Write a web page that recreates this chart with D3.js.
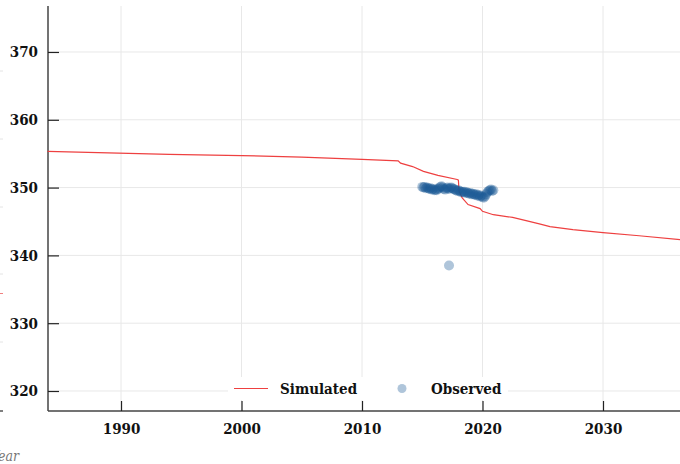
<!DOCTYPE html>
<html>
<head>
<meta charset="utf-8">
<script src="https://cdn.jsdelivr.net/npm/d3@7"></script>
<style>
  body { margin: 0; background: #fff; }
  svg { display: block; }
  .lbl { font-family: "DejaVu Serif Condensed", "DejaVu Serif", serif; font-weight: bold; font-stretch: condensed; font-size: 15px; fill: #111; }
</style>
</head>
<body>
<div id="chart"></div>
<script>
var WIDTH = 680, HEIGHT = 464;

// simulated series (red line)
var simYears  = [1983.9, 1994.0, 2000.0, 2005.0, 2010.0, 2013.0, 2013.2, 2014.2, 2015.1, 2016.3, 2017.9, 2018.0, 2018.05, 2018.3, 2018.8, 2019.8, 2020.0, 2020.9, 2022.5, 2023.7, 2024.8, 2025.6, 2027.5, 2030.0, 2033.0, 2036.4];
var simValues = [355.35, 354.9, 354.72, 354.5, 354.15, 353.95, 353.6, 353.1, 352.4, 351.8, 351.2, 351.1, 349.5, 348.5, 347.5, 346.9, 346.5, 346.0, 345.6, 345.1, 344.6, 344.25, 343.8, 343.36, 342.9, 342.33];

// observed points (blue dots)
var obsYears = [2015.0, 2015.1, 2015.2, 2015.3, 2015.4, 2015.5, 2015.6, 2015.7, 2015.8, 2015.9,
                2016.0, 2016.1, 2016.2, 2016.3, 2016.4, 2016.5, 2016.6, 2016.7, 2016.8, 2016.9,
                2017.0, 2017.1, 2017.2, 2017.3, 2017.4, 2017.5, 2017.6, 2017.7, 2017.8, 2017.9,
                2018.0, 2018.1, 2018.2, 2018.3, 2018.4, 2018.5, 2018.6, 2018.7, 2018.8, 2018.9,
                2019.0, 2019.1, 2019.2, 2019.3, 2019.4, 2019.5, 2019.6, 2019.7, 2019.8, 2019.9,
                2020.0, 2020.1, 2020.2, 2020.3, 2020.4, 2020.5, 2020.6, 2020.7, 2020.8, 2020.9,
                2017.22];
var obsValues = [350.1, 350.0, 350.1, 349.9, 350.0, 349.9, 349.8, 349.9, 349.7, 349.8,
                 349.6, 349.7, 349.6, 349.8, 349.9, 350.1, 350.2, 350.0, 349.8, 349.7,
                 349.9, 350.0, 349.8, 349.9, 350.0, 349.9, 349.8, 349.7, 349.6, 349.5,
                 349.6, 349.5, 349.3, 349.4, 349.3, 349.4, 349.2, 349.3, 349.2, 349.1,
                 349.2, 349.0, 349.1, 349.0, 348.9, 349.0, 348.8, 348.9, 348.7, 348.8,
                 348.6, 348.5, 348.7, 349.0, 349.3, 349.5, 349.6, 349.7, 349.5, 349.6,
                 338.5];

var xTicks = [1990, 2000, 2010, 2020, 2030];
var yTicks = [320, 330, 340, 350, 360, 370];
var legendLabels = ["Simulated", "Observed"];

var svg = d3.select("#chart").append("svg")
    .attr("width", WIDTH)
    .attr("height", HEIGHT);

var x = d3.scaleLinear().domain([1983.94, 2036.39]).range([48, 680]);
var y = d3.scaleLinear().domain([317.05, 376.78]).range([411, 6]);

/* bits of the neighbouring panel on the left edge */
var left = svg.append("g");
left.selectAll("line.stub")
    .data([71, 139, 207, 274, 342])
    .enter().append("line")
      .attr("x1", 0).attr("x2", 3)
      .attr("y1", function(d){ return d; }).attr("y2", function(d){ return d; })
      .attr("stroke", "#e4e4e4");
left.append("line").attr("x1", 0).attr("x2", 3).attr("y1", 293.5).attr("y2", 293.5).attr("stroke", "#f08080");
left.append("line").attr("x1", 0).attr("x2", 3).attr("y1", 411).attr("y2", 411).attr("stroke", "#555").attr("stroke-width", 1.5);
left.append("text")
    .attr("x", 19).attr("y", 461)
    .attr("text-anchor", "end")
    .style("font-family", "'DejaVu Serif Condensed', 'DejaVu Serif', serif")
    .style("font-style", "italic")
    .style("font-size", "14px")
    .style("fill", "#777")
    .text("Year");

/* gridlines */
var grid = svg.append("g");
grid.selectAll("line.gx")
    .data(xTicks)
    .enter().append("line")
      .attr("x1", function(d){ return x(d); }).attr("x2", function(d){ return x(d); })
      .attr("y1", 6).attr("y2", 411)
      .attr("stroke", "#e8e8e8");
grid.selectAll("line.gy")
    .data(yTicks)
    .enter().append("line")
      .attr("x1", 48).attr("x2", 680)
      .attr("y1", function(d){ return y(d); }).attr("y2", function(d){ return y(d); })
      .attr("stroke", "#e8e8e8");

/* axes with inward ticks */
var xAxis = svg.append("g")
    .attr("transform", "translate(0,411)")
    .call(d3.axisBottom(x).tickValues(xTicks).tickSize(-10).tickPadding(12).tickFormat(d3.format("d")));
var yAxis = svg.append("g")
    .attr("transform", "translate(48,0)")
    .call(d3.axisLeft(y).tickValues(yTicks).tickSize(-11).tickPadding(10).tickFormat(d3.format("d")));

[xAxis, yAxis].forEach(function(a){
    a.select(".domain").attr("stroke", "#444").attr("stroke-width", 1.5);
    a.selectAll(".tick line").attr("stroke", "#222").attr("stroke-width", 1.2);
    a.selectAll(".tick text").attr("class", "lbl").attr("font-family", null).attr("font-size", null).attr("fill", null);
});
yAxis.select(".domain").attr("d", "M0,6V411");
xAxis.select(".domain").attr("d", "M48,0H680");

/* simulated line */
var simData = simYears.map(function(d, i){ return [d, simValues[i]]; });
svg.append("path")
    .datum(simData)
    .attr("fill", "none")
    .attr("stroke", "#ee4040")
    .attr("stroke-width", 1.2)
    .attr("d", d3.line().x(function(d){ return x(d[0]); }).y(function(d){ return y(d[1]); }));

/* observed dots */
var obsData = obsYears.map(function(d, i){ return [d, obsValues[i]]; });
svg.append("g")
    .selectAll("circle")
    .data(obsData)
    .enter().append("circle")
      .attr("cx", function(d){ return x(d[0]); })
      .attr("cy", function(d){ return y(d[1]); })
      .attr("r", 5)
      .attr("fill", "#1a5995")
      .attr("fill-opacity", 0.35);

/* legend */
var legend = svg.append("g");
legend.append("rect").attr("x", 228).attr("y", 377).attr("width", 280).attr("height", 23).attr("fill", "#fff");
legend.append("line").attr("x1", 234).attr("x2", 268).attr("y1", 388.5).attr("y2", 388.5)
    .attr("stroke", "#ee4040").attr("stroke-width", 1.2);
legend.append("circle").attr("cx", 402).attr("cy", 388.5).attr("r", 4.5)
    .attr("fill", "#1a5995").attr("fill-opacity", 0.35);
legend.selectAll("text")
    .data(legendLabels)
    .enter().append("text")
      .attr("class", "lbl")
      .attr("x", function(d, i){ return i === 0 ? 280 : 431; })
      .attr("y", 388.5)
      .attr("dy", "0.35em")
      .text(function(d){ return d; });
</script>
</body>
</html>
